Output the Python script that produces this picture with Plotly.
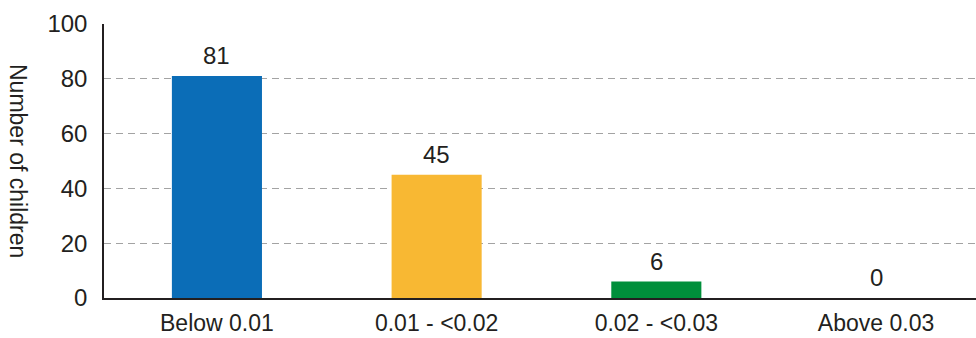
import plotly.graph_objects as go

# Children grouped by measured level
categories = ["Below 0.01", "0.01 - <0.02", "0.02 - <0.03", "Above 0.03"]
counts = [81, 45, 6, 0]
bar_colors = ["#0b6db7", "#f8b833", "#008f3b", "#888888"]
y_ticks = [0, 20, 40, 60, 80, 100]

FONT = "Liberation Sans, Arial, Helvetica, sans-serif"
INK = "#231f20"

xs = list(range(len(categories)))

fig = go.Figure(
    go.Bar(
        x=xs,
        y=counts,
        marker=dict(color=bar_colors, line=dict(width=0)),
        width=0.41,
        cliponaxis=False,
    )
)

# value labels sitting a little above each bar
for xi, v in zip(xs, counts):
    fig.add_annotation(
        x=xi,
        y=v,
        text=str(v),
        showarrow=False,
        yanchor="bottom",
        yshift=5,
        font=dict(family=FONT, size=24, color=INK),
    )

fig.update_layout(
    width=976,
    height=338,
    margin=dict(l=104, r=0, t=24, b=40, autoexpand=False),
    paper_bgcolor="white",
    plot_bgcolor="white",
    showlegend=False,
    font=dict(family=FONT, size=24, color=INK),
)

fig.update_xaxes(
    tickmode="array",
    tickvals=xs,
    ticktext=categories,
    range=[-0.514, 3.455],
    showgrid=False,
    showline=True,
    linecolor=INK,
    linewidth=2,
    ticks="",
    ticklabelstandoff=3,
    tickfont=dict(family=FONT, size=23, color=INK),
    zeroline=False,
    automargin=False,
)

fig.update_yaxes(
    range=[0, 100],
    tickmode="array",
    tickvals=y_ticks,
    showgrid=True,
    gridcolor="#a3a3a3",
    gridwidth=1.3,
    griddash="7px,5px",
    showline=True,
    linecolor=INK,
    linewidth=1.5,
    ticks="",
    ticklabelstandoff=10,
    tickfont=dict(family=FONT, size=24, color=INK),
    zeroline=False,
    automargin=False,
)

fig.add_annotation(
    text="Number of children",
    xref="paper",
    yref="paper",
    x=-86 / 872,
    y=0.5,
    textangle=90,
    showarrow=False,
    font=dict(family=FONT, size=23, color=INK),
    xanchor="center",
    yanchor="middle",
)

fig.write_html("out.html")
